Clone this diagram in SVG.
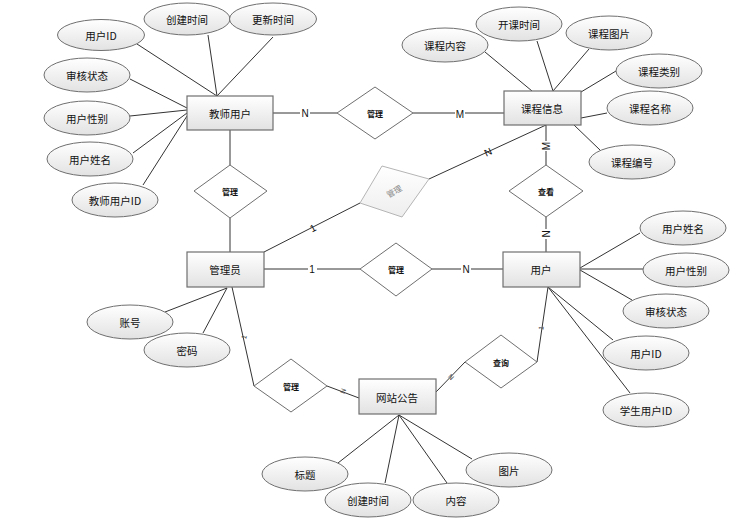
<svg xmlns="http://www.w3.org/2000/svg" width="751" height="526" viewBox="0 0 751 526">
<defs>
<linearGradient id="g" x1="0" y1="0" x2="0" y2="1">
<stop offset="0" stop-color="#ffffff"/>
<stop offset="1" stop-color="#e2e2e2"/>
</linearGradient>
<linearGradient id="gd" x1="0" y1="0" x2="0" y2="1">
<stop offset="0" stop-color="#ffffff"/>
<stop offset="1" stop-color="#eeeeee"/>
</linearGradient>
</defs>
<style>
.e{fill:url(#g);stroke:#6f6f6f;stroke-width:1}
.r{fill:url(#g);stroke:#6f6f6f;stroke-width:1.2}
.d{fill:#fff;stroke:#6f6f6f;stroke-width:1}
.dg{fill:url(#gd);stroke:#b5b5b5;stroke-width:1}
.l{stroke:#333;stroke-width:1;fill:none}
.t{font-family:"Noto Sans CJK SC","Liberation Sans",sans-serif;font-size:10.5px;fill:#111;text-anchor:middle;dominant-baseline:central}
.td{font-family:"Noto Sans CJK SC","Liberation Sans",sans-serif;font-size:8px;font-weight:bold;fill:#111;text-anchor:middle;dominant-baseline:central}
.tg{font-family:"Noto Sans CJK SC","Liberation Sans",sans-serif;font-size:8px;fill:#888;text-anchor:middle;dominant-baseline:central}
.c{font-family:"Liberation Sans",sans-serif;font-size:10px;fill:#111;text-anchor:middle;dominant-baseline:central}
.cs{font-family:"Liberation Sans",sans-serif;font-size:7px;fill:#444;text-anchor:middle;dominant-baseline:central}
.lb{fill:#fff}
</style>
<g id="connectors">
<!-- teacher attributes -->
<line class="l" x1="137" y1="44" x2="217" y2="96"/>
<line class="l" x1="208" y1="35" x2="217" y2="96"/>
<line class="l" x1="273" y1="37" x2="217" y2="96"/>
<line class="l" x1="130" y1="79" x2="187" y2="108"/>
<line class="l" x1="130" y1="116" x2="187" y2="110"/>
<line class="l" x1="133" y1="153" x2="187" y2="113"/>
<line class="l" x1="143" y1="185" x2="187" y2="116"/>
<!-- course attributes -->
<line class="l" x1="485" y1="52" x2="532" y2="91"/>
<line class="l" x1="537" y1="41" x2="553" y2="91"/>
<line class="l" x1="589" y1="49" x2="553" y2="91"/>
<line class="l" x1="616" y1="71" x2="581" y2="92"/>
<line class="l" x1="607" y1="113" x2="581" y2="118"/>
<line class="l" x1="600" y1="150" x2="574" y2="125"/>
<!-- user attributes -->
<line class="l" x1="580" y1="268" x2="640" y2="233"/>
<line class="l" x1="580" y1="269" x2="643" y2="269"/>
<line class="l" x1="580" y1="270" x2="632" y2="300"/>
<line class="l" x1="548" y1="287" x2="613" y2="340"/>
<line class="l" x1="548" y1="287" x2="630" y2="393"/>
<!-- admin attributes -->
<line class="l" x1="165" y1="312" x2="227" y2="288"/>
<line class="l" x1="203" y1="333" x2="227" y2="288"/>
<!-- notice attributes -->
<line class="l" x1="399" y1="415" x2="338" y2="463"/>
<line class="l" x1="399" y1="415" x2="385" y2="483"/>
<line class="l" x1="399" y1="415" x2="447" y2="483"/>
<line class="l" x1="399" y1="415" x2="472" y2="459"/>
<!-- relationships -->
<line class="l" x1="273" y1="113" x2="337" y2="113"/>
<line class="l" x1="413" y1="113" x2="504" y2="113"/>
<line class="l" x1="230" y1="130" x2="230" y2="165"/>
<line class="l" x1="230" y1="218" x2="230" y2="252"/>
<line class="l" x1="546" y1="125" x2="546" y2="165"/>
<line class="l" x1="546" y1="217" x2="546" y2="252"/>
<line class="l" x1="546" y1="125" x2="429" y2="179"/>
<line class="l" x1="360" y1="203" x2="264" y2="252"/>
<line class="l" x1="264" y1="269" x2="360" y2="269"/>
<line class="l" x1="432" y1="269" x2="503" y2="269"/>
<line class="l" x1="232" y1="287" x2="254" y2="386"/>
<line class="l" x1="327" y1="386" x2="359" y2="398"/>
<line class="l" x1="548" y1="287" x2="537" y2="362"/>
<line class="l" x1="465" y1="362" x2="436" y2="392"/>
<!-- cardinality labels -->
<rect class="lb" x="300" y="107" width="10" height="12"/>
<text class="c" x="305" y="113">N</text>
<rect class="lb" x="455" y="107" width="10" height="12"/>
<text class="c" x="460" y="114">M</text>
<rect class="lb" x="540" y="141" width="12" height="10"/>
<text class="c" transform="translate(546,146) rotate(-90)">M</text>
<rect class="lb" x="541" y="229" width="11" height="10"/>
<text class="c" transform="translate(546,234) rotate(-90)">N</text>
<text class="c" transform="translate(488,152) rotate(-25)">N</text>
<text class="c" transform="translate(313,228) rotate(-27)">1</text>
<rect class="lb" x="308" y="263" width="9" height="12"/>
<text class="c" x="312" y="269">1</text>
<rect class="lb" x="461" y="263" width="10" height="12"/>
<text class="c" x="466" y="269">N</text>
<text class="cs" transform="translate(244,337) rotate(-77)">1</text>
<text class="cs" transform="translate(343,391) rotate(-70)">N</text>
<text class="cs" transform="translate(451,377) rotate(45)">N</text>
<text class="cs" transform="translate(541,328) rotate(-82)">1</text>
</g>
<g id="teacher"><rect class="r" x="187" y="96" width="86" height="34"/><text class="t" x="230" y="113">教师用户</text></g>
<g id="course"><rect class="r" x="504" y="91" width="77" height="34"/><text class="t" x="542" y="108">课程信息</text></g>
<g id="admin"><rect class="r" x="187" y="252" width="77" height="35"/><text class="t" x="225" y="269">管理员</text></g>
<g id="user"><rect class="r" x="503" y="252" width="77" height="35"/><text class="t" x="541" y="269">用户</text></g>
<g id="notice"><rect class="r" x="359" y="379" width="77" height="35"/><text class="t" x="397" y="397">网站公告</text></g>
<g id="rel-teacher-admin"><polygon class="d" points="230,165 267,191 230,218 194,191"/><text class="td" x="230" y="191">管理</text></g>
<g id="rel-teacher-course"><polygon class="d" points="375,87 413,113 375,139 337,113"/><text class="td" x="375" y="113">管理</text></g>
<g id="rel-admin-course"><polygon class="dg" points="382,166 429,179 402,217 360,203"/><text class="tg" transform="translate(394,191) rotate(-30)">管理</text></g>
<g id="rel-admin-user"><polygon class="d" points="396,243 432,269 396,296 360,269"/><text class="td" x="396" y="269">管理</text></g>
<g id="rel-course-user"><polygon class="d" points="546,165 583,191 546,217 509,191"/><text class="td" x="546" y="191">查看</text></g>
<g id="rel-admin-notice"><polygon class="d" points="291,359 327,386 291,412 254,386"/><text class="td" x="291" y="386">管理</text></g>
<g id="rel-user-notice"><polygon class="d" points="501,335 537,362 501,388 465,362"/><text class="td" x="501" y="362">查询</text></g>
<g id="a-t-uid"><ellipse class="e" cx="101" cy="35" rx="43.5" ry="15.5"/><text class="t" x="101" y="35">用户ID</text></g>
<g id="a-t-ctime"><ellipse class="e" cx="187" cy="19" rx="43" ry="16"/><text class="t" x="187" y="19">创建时间</text></g>
<g id="a-t-utime"><ellipse class="e" cx="273" cy="19" rx="43.5" ry="16"/><text class="t" x="273" y="19">更新时间</text></g>
<g id="a-t-status"><ellipse class="e" cx="87" cy="75" rx="43" ry="17"/><text class="t" x="87" y="75">审核状态</text></g>
<g id="a-t-gender"><ellipse class="e" cx="87" cy="118" rx="43" ry="17"/><text class="t" x="87" y="118">用户性别</text></g>
<g id="a-t-name"><ellipse class="e" cx="90" cy="159" rx="43" ry="17"/><text class="t" x="90" y="159">用户姓名</text></g>
<g id="a-t-tid"><ellipse class="e" cx="115" cy="200" rx="43" ry="17"/><text class="t" x="115" y="200">教师用户ID</text></g>
<g id="a-c-content"><ellipse class="e" cx="445" cy="45" rx="43" ry="17"/><text class="t" x="445" y="45">课程内容</text></g>
<g id="a-c-time"><ellipse class="e" cx="519" cy="24" rx="43" ry="17"/><text class="t" x="519" y="24">开课时间</text></g>
<g id="a-c-img"><ellipse class="e" cx="609" cy="33" rx="43" ry="17"/><text class="t" x="609" y="33">课程图片</text></g>
<g id="a-c-type"><ellipse class="e" cx="659" cy="71" rx="43" ry="17"/><text class="t" x="659" y="71">课程类别</text></g>
<g id="a-c-name"><ellipse class="e" cx="650" cy="108" rx="43" ry="17"/><text class="t" x="650" y="108">课程名称</text></g>
<g id="a-c-no"><ellipse class="e" cx="632" cy="162" rx="43" ry="17"/><text class="t" x="632" y="162">课程编号</text></g>
<g id="a-u-name"><ellipse class="e" cx="683" cy="228" rx="43" ry="17"/><text class="t" x="683" y="228">用户姓名</text></g>
<g id="a-u-gender"><ellipse class="e" cx="686" cy="270" rx="43" ry="17"/><text class="t" x="686" y="270">用户性别</text></g>
<g id="a-u-status"><ellipse class="e" cx="666" cy="311" rx="43" ry="17"/><text class="t" x="666" y="311">审核状态</text></g>
<g id="a-u-uid"><ellipse class="e" cx="646" cy="353" rx="43" ry="17"/><text class="t" x="646" y="353">用户ID</text></g>
<g id="a-u-sid"><ellipse class="e" cx="646" cy="410" rx="43" ry="17"/><text class="t" x="646" y="410">学生用户ID</text></g>
<g id="a-a-acc"><ellipse class="e" cx="130" cy="322" rx="43" ry="17"/><text class="t" x="130" y="322">账号</text></g>
<g id="a-a-pwd"><ellipse class="e" cx="187" cy="350" rx="43" ry="17"/><text class="t" x="187" y="350">密码</text></g>
<g id="a-n-title"><ellipse class="e" cx="305" cy="474" rx="43" ry="17"/><text class="t" x="305" y="474">标题</text></g>
<g id="a-n-ctime"><ellipse class="e" cx="368" cy="500" rx="43" ry="17"/><text class="t" x="368" y="500">创建时间</text></g>
<g id="a-n-content"><ellipse class="e" cx="456" cy="500" rx="43" ry="17"/><text class="t" x="456" y="500">内容</text></g>
<g id="a-n-img"><ellipse class="e" cx="509" cy="470" rx="43" ry="17"/><text class="t" x="509" y="470">图片</text></g>
</svg>
